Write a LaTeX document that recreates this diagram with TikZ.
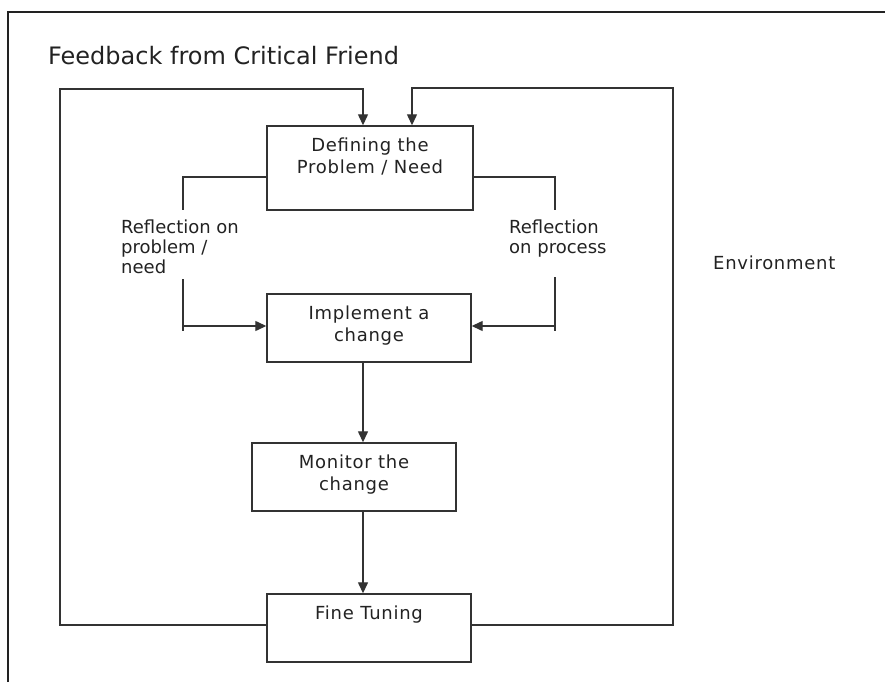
\documentclass[tikz,border=0pt]{standalone}
\usepackage{fontspec}
\setmainfont{DejaVu Sans}
\newfontfamily\widefont[LetterSpace=4]{DejaVu Sans}
\usetikzlibrary{arrows.meta}
\definecolor{ink}{HTML}{222222}
\definecolor{wire}{HTML}{333333}
\begin{document}
\begin{tikzpicture}[x=1pt,y=-1pt,
  box/.style={draw=wire,line width=1.4pt,rectangle,inner sep=0pt},
  lbl/.style={font=\widefont\fontsize{18}{22}\selectfont,text=ink,inner sep=0pt},
  rlbl/.style={font=\fontsize{18}{20}\selectfont,text=ink,inner sep=0pt,align=left,anchor=north west},
  conn/.style={draw=wire,line width=1.3pt},
  arr/.style={conn,-{Triangle[length=11pt,width=10pt]}},
]
\useasboundingbox (0,0) rectangle (885,682);
\draw[line width=1.6pt,ink] (8,682) -- (8,12) -- (885,12);

% title and environment
\node[font=\fontsize{24}{28}\selectfont,text=ink,inner sep=0pt,anchor=north west] (title) at (48,46) {Feedback from Critical Friend};
\node[lbl,anchor=north west] (env) at (713,256) {Environment};

% boxes
\node[box,minimum width=206pt,minimum height=84pt] (b1) at (370,168) {};
\node[box,minimum width=204pt,minimum height=68pt] (b2) at (369,328) {};
\node[box,minimum width=204pt,minimum height=68pt] (b3) at (354,477) {};
\node[box,minimum width=204pt,minimum height=68pt] (b4) at (369,628) {};

% box texts
\node[lbl,align=center,anchor=north] (t1) at (370,138) {Defining the\\Problem / Need};
\node[lbl,align=center,anchor=north] (t2) at (369,306) {Implement a\\change};
\node[lbl,align=center,anchor=north] (t3) at (354,455) {Monitor the\\change};
\node[lbl,align=center,anchor=north] (t4) at (369,606) {Fine Tuning};

% reflection labels
\node[rlbl] (rl) at (121,220) {Reflection on\\problem /\\need};
\node[rlbl] (rr) at (509,220) {Reflection\\on process};

% outer feedback loops
\coordinate (lb) at (60,625);
\coordinate (lt) at (60,89);
\coordinate (la) at (363,89);
\draw[arr] (b4.west |- lb) -- (lb) -- (lt) -- (la) -- (la |- b1.north);
\coordinate (rb) at (673,625);
\coordinate (rt) at (673,88);
\coordinate (ra) at (412,88);
\draw[arr] (b4.east |- rb) -- (rb) -- (rt) -- (ra) -- (ra |- b1.north);

% left reflection
\coordinate (l1) at (183,177);
\coordinate (l2) at (183,210);
\coordinate (l3) at (183,279);
\coordinate (l4) at (183,331);
\coordinate (l5) at (183,326);
\draw[conn] (b1.west |- l1) -- (l1) -- (l2);
\draw[conn] (l3) -- (l4);
\draw[arr] (l5) -- (l5 -| b2.west);

% right reflection
\coordinate (r1) at (555,177);
\coordinate (r2) at (555,210);
\coordinate (r3) at (555,277);
\coordinate (r4) at (555,331);
\coordinate (r5) at (555,326);
\draw[conn] (b1.east |- r1) -- (r1) -- (r2);
\draw[conn] (r3) -- (r4);
\draw[arr] (r5) -- (r5 -| b2.east);

% main chain
\coordinate (v) at (363,0);
\draw[arr] (b2.south -| v) -- (b3.north -| v);
\draw[arr] (b3.south -| v) -- (b4.north -| v);
\end{tikzpicture}
\end{document}
